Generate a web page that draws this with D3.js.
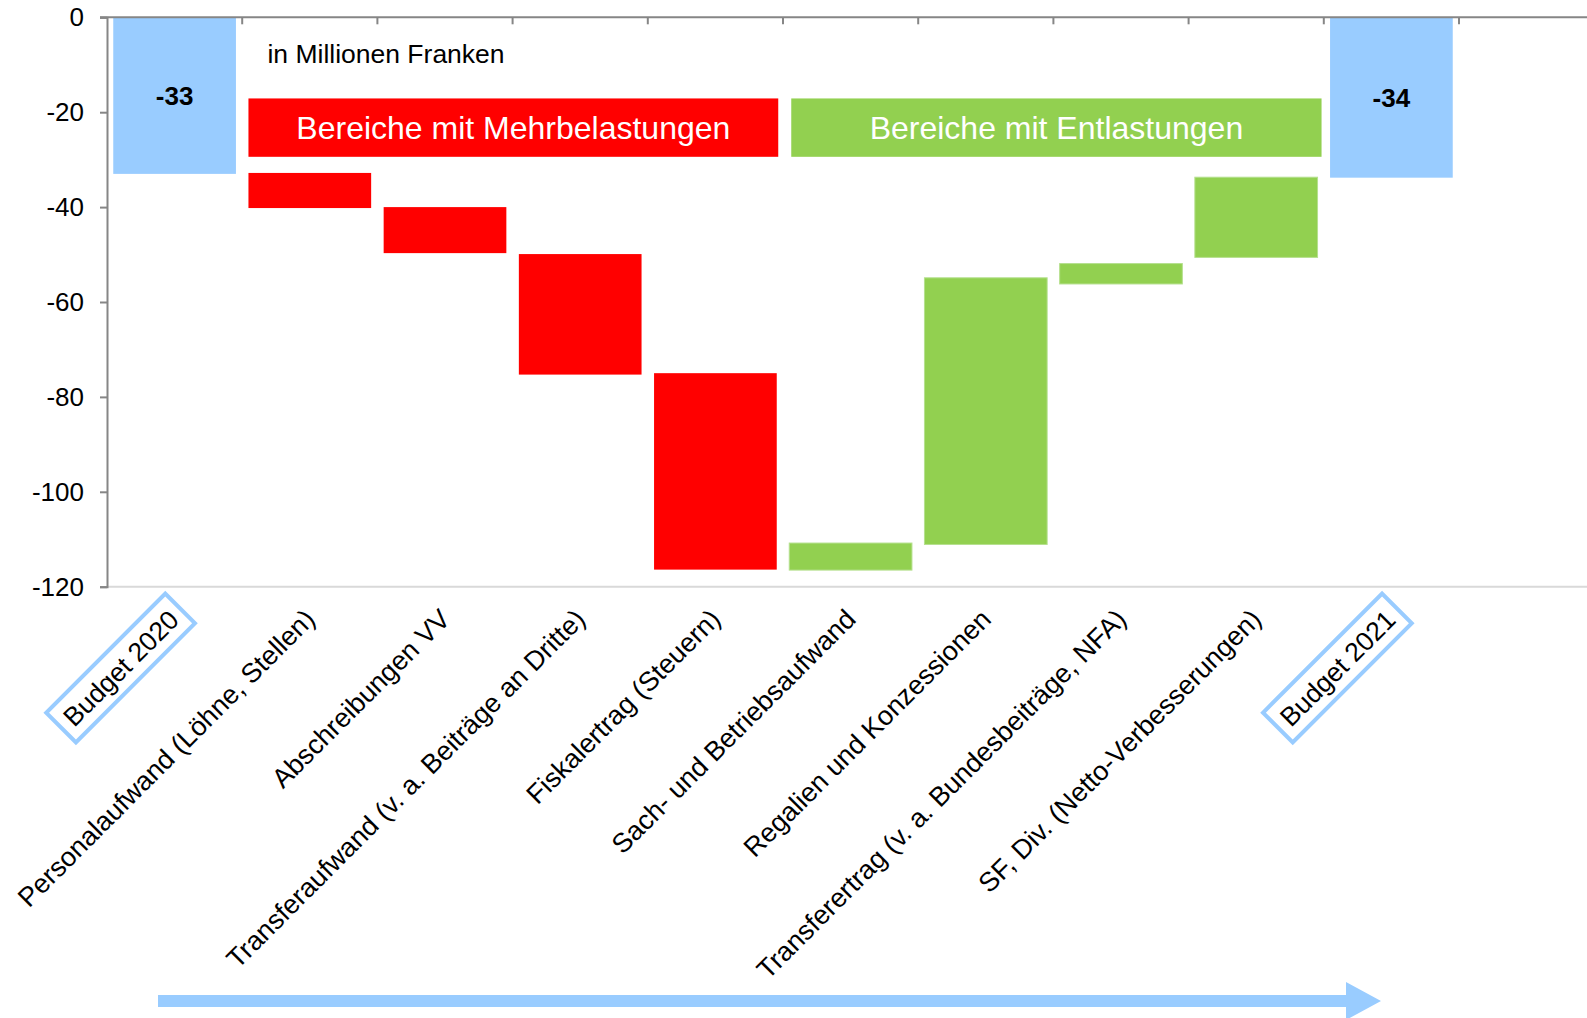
<!DOCTYPE html>
<html>
<head>
<meta charset="utf-8">
<script src="https://cdn.jsdelivr.net/npm/d3@7"></script>
<style>
  html, body { margin: 0; padding: 0; background: #fff; }
  svg { display: block; }
  text { font-family: "Liberation Sans", Arial, sans-serif; }
</style>
</head>
<body>
<svg id="chart" width="1587" height="1018"></svg>
<script>
// ---- data ----
const categories = [
  "Budget 2020",
  "Personalaufwand (Löhne, Stellen)",
  "Abschreibungen VV",
  "Transferaufwand (v. a. Beiträge an Dritte)",
  "Fiskalertrag (Steuern)",
  "Sach- und Betriebsaufwand",
  "Regalien und Konzessionen",
  "Transferertrag (v. a. Bundesbeiträge, NFA)",
  "SF, Div. (Netto-Verbesserungen)",
  "Budget 2021",
  ""
];
const barStart = [0, -32.8, -40.0, -49.9, -75.0, -116.5, -111.1, -56.2, -50.6, 0];
const barEnd   = [-33, -40.2, -49.7, -75.3, -116.4, -110.8, -54.9, -51.9, -33.7, -33.8];
const barKind  = ["total", "up", "up", "up", "up", "down", "down", "down", "down", "total"];
const barLabels = ["-33", "", "", "", "", "", "", "", "", "-34"];
const yTicks = [0, -20, -40, -60, -80, -100, -120];
const bannerTexts = ["Bereiche mit Mehrbelastungen", "Bereiche mit Entlastungen"];
const bannerCats = [[1, 4], [5, 8]];
const bannerRange = [-17.1, -29.4];
const unitText = "in Millionen Franken";

const colors = { total: "#99ccff", up: "#ff0000", down: "#92d050" };

// ---- layout ----
const svg = d3.select("#chart");
const left = 107, step = 135.2;
const x = d3.scaleBand()
  .domain(categories)
  .range([left, left + step * categories.length])
  .paddingInner(0.0925)
  .paddingOuter(0.04625);
const y = d3.scaleLinear().domain([0, -120]).range([17.3, 586.7]);

// bottom light line at -120
svg.append("line")
  .attr("x1", left).attr("x2", 1587)
  .attr("y1", y(-120)).attr("y2", y(-120))
  .attr("stroke", "#d9d9d9").attr("stroke-width", 2);

// bars
svg.append("g").selectAll("rect")
  .data(barStart.map((s, i) => ({ s, e: barEnd[i], k: barKind[i], c: categories[i] })))
  .join("rect")
  .attr("x", d => x(d.c))
  .attr("width", x.bandwidth())
  .attr("y", d => y(Math.max(d.s, d.e)))
  .attr("height", d => Math.abs(y(d.s) - y(d.e)))
  .attr("fill", d => colors[d.k])
  .attr("stroke", d => d.k === "down" ? "#b5e08e" : "none")
  .attr("stroke-width", 1);

// bar labels
svg.append("g").selectAll("text")
  .data(barLabels.map((t, i) => ({ t, i })).filter(d => d.t))
  .join("text")
  .attr("x", d => x(categories[d.i]) + x.bandwidth() / 2)
  .attr("y", d => y((barStart[d.i] + barEnd[d.i]) / 2))
  .attr("dy", "0.36em")
  .attr("text-anchor", "middle")
  .attr("font-weight", "bold")
  .attr("font-size", 26)
  .attr("fill", "#000")
  .text(d => d.t);

// y axis
const yAxis = d3.axisLeft(y).tickValues(yTicks).tickSize(7).tickPadding(16).tickFormat(d => String(d));
const ga = svg.append("g").attr("transform", `translate(${left},0)`).call(yAxis);
ga.select(".domain").attr("stroke", "#868686").attr("stroke-width", 2);
ga.selectAll(".tick line").attr("stroke", "#868686").attr("stroke-width", 2);
ga.selectAll(".tick text")
  .attr("font-size", 26)
  .attr("font-family", "Liberation Sans, Arial, sans-serif")
  .attr("fill", "#000");

// top axis (value 0) with ticks at category boundaries
const boundaries = categories.slice(1).map(c => x(c) - x.step() * x.paddingInner() / 2);
const topAxis = svg.append("g");
topAxis.append("line")
  .attr("x1", left - 7).attr("x2", 1587)
  .attr("y1", y(0)).attr("y2", y(0))
  .attr("stroke", "#868686").attr("stroke-width", 2);
topAxis.selectAll("line.t")
  .data(boundaries)
  .join("line").attr("class", "t")
  .attr("x1", d => d).attr("x2", d => d)
  .attr("y1", y(0)).attr("y2", y(0) + 7)
  .attr("stroke", "#868686").attr("stroke-width", 2);

// unit text
svg.append("text")
  .attr("x", x(categories[1]) + 19).attr("y", 63)
  .attr("font-size", 26.5).attr("fill", "#000")
  .text(unitText);

// banners
bannerTexts.forEach((t, i) => {
  const [a, b] = bannerCats[i];
  const x0 = x(categories[a]) + (i === 0 ? 0 : 2);
  const x1 = x(categories[b]) + x.bandwidth() + (i === 0 ? 1.5 : 4);
  const y0 = y(bannerRange[0]), y1 = y(bannerRange[1]);
  svg.append("rect")
    .attr("x", x0).attr("y", y0).attr("width", x1 - x0).attr("height", y1 - y0)
    .attr("fill", i === 0 ? colors.up : colors.down);
  svg.append("text")
    .attr("x", (x0 + x1) / 2).attr("y", (y0 + y1) / 2)
    .attr("dy", "0.36em")
    .attr("text-anchor", "middle")
    .attr("font-size", 32)
    .attr("fill", "#fff")
    .text(t);
});

// category labels
const labelsG = svg.append("g");
categories.forEach((c, i) => {
  if (!c) return;
  const cx = x(c) + x.bandwidth() / 2;
  if (barKind[i] === "total") {
    const g = labelsG.append("g")
      .attr("transform", `translate(${cx - 54},668) rotate(-45)`);
    const rect = g.append("rect");
    const t = g.append("text")
      .attr("text-anchor", "middle")
      .attr("dy", "0.36em")
      .attr("font-size", 26.5)
      .attr("fill", "#000")
      .text(c);
    const w = t.node().getComputedTextLength();
    rect.attr("x", -w / 2 - 9).attr("y", -21).attr("width", w + 18).attr("height", 42)
      .attr("fill", "#fff").attr("stroke", colors.total).attr("stroke-width", 4);
  } else {
    labelsG.append("text")
      .attr("transform", `translate(${cx - 7},607) rotate(-45)`)
      .attr("text-anchor", "end")
      .attr("dy", "0.72em")
      .attr("font-size", 27)
      .attr("fill", "#000")
      .text(c);
  }
});

// bottom arrow
const arrowPts = [[158, 995], [1346, 995], [1346, 982], [1381, 1001], [1346, 1020], [1346, 1007], [158, 1007]];
svg.append("polygon")
  .attr("points", arrowPts.map(p => p.join(",")).join(" "))
  .attr("fill", colors.total);
</script>
</body>
</html>
